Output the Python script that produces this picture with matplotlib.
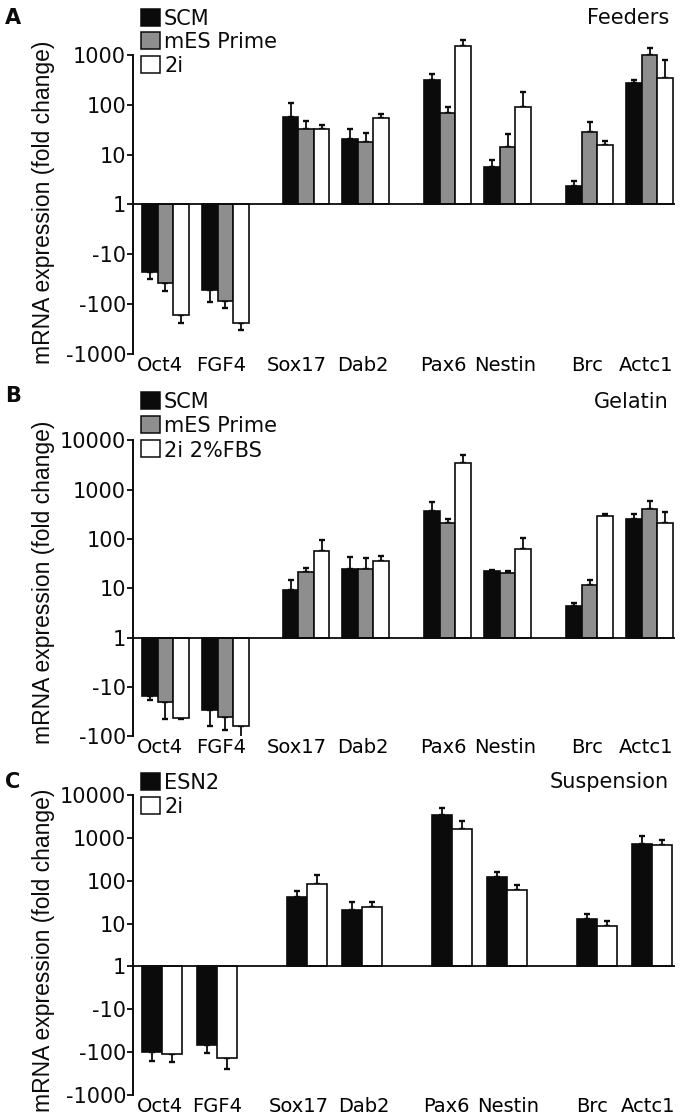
import numpy as np
import matplotlib
matplotlib.use("Agg")
import matplotlib.pyplot as plt
from matplotlib.patches import Rectangle

plt.rcParams['font.family'] = ['DejaVu Sans']

# ---------------- data ----------------
genes = ["Oct4", "FGF4", "Sox17", "Dab2", "Pax6", "Nestin", "Brc", "Actc1"]

# Panel A - Feeders (fold change; negative = down-regulation)
a_series = ["SCM", "mES Prime", "2i"]
a_scm = [-23, -52, 58, 21, 310, 5.7, 2.3, 270]
a_mes = [-37, -86, 32, 17.7, 69, 14.3, 28.6, 985]
a_2i = [-166, -240, 33, 54, 1520, 90, 15.6, 350]
a_scm_err = [9, 37, 52, 12, 107, 2.1, 0.65, 46]
a_mes_err = [17, 31, 16, 9, 22, 12, 16, 395]
a_2i_err = [74, 84, 7, 11, 430, 88, 3, 426]

# Panel B - Gelatin
b_series = ["SCM", "mES Prime", "2i 2%FBS"]
b_scm = [-15.5, -30, 9.4, 24, 365, 22, 4.4, 254]
b_mes = [-20, -41.5, 21, 24.6, 215, 20, 11.5, 400]
b_2i = [-42, -63, 56, 36, 3530, 61, 288, 215]
b_scm_err = [2.7, 32, 5.1, 18, 185, 1, 0.6, 70]
b_mes_err = [25, 34, 5, 17, 42, 2, 3.3, 175]
b_2i_err = [4, 49, 37, 8, 1470, 41, 36, 140]

# Panel C - Suspension
c_series = ["ESN2", "2i"]
c_esn2 = [-100, -69, 42, 21, 3450, 120, 12.5, 710]
c_2i = [-114, -135, 85, 24, 1650, 62, 8.6, 670]
c_esn2_err = [66, 36, 16, 11, 1450, 38, 4.5, 410]
c_2i_err = [60, 110, 50, 8, 800, 17, 3.1, 242]

tick_vals_a = [-1000, -100, -10, 1, 10, 100, 1000]
tick_vals_b = [-100, -10, 1, 10, 100, 1000, 10000]
tick_vals_c = [-1000, -100, -10, 1, 10, 100, 1000, 10000]

# ---------------- layout ----------------
W, H = 682, 1119
fig = plt.figure(figsize=(W / 100, H / 100), dpi=100)

BLACK = "#0b0b0b"
GREY = "#8e8e8e"
WHITE = "#ffffff"

centers3 = [165.3, 225.3, 306.0, 365.5, 447.5, 507.5, 589.5, 649.5]
centers2 = [162.0, 217.0, 307.0, 362.0, 452.0, 507.0, 597.0, 652.0]
label_x3 = [160, 221, 297, 363, 443, 505, 587, 646]
label_x2 = [160, 217, 299, 364, 446, 508, 592, 648]


def tf(v):
    v = np.asarray(v, dtype=float)
    return np.sign(v) * np.log10(np.abs(v))


def tick_label(v):
    return str(v)


def make_axes(top_px, bottom_px, ylim):
    left, right = 133, 675
    ax = fig.add_axes([left / W, 1 - bottom_px / H, (right - left) / W,
                       (bottom_px - top_px) / H])
    ax.set_xlim(left, right)
    ax.set_ylim(*ylim)
    ax.patch.set_alpha(0)
    for s in ["top", "right", "bottom"]:
        ax.spines[s].set_visible(False)
    ax.spines["left"].set_linewidth(1.4)
    ax.spines["left"].set_color(BLACK)
    return ax


def draw_panel(ax, series_vals, series_errs, colors, centers, width, ticks,
               spine_bounds, label_x):
    n = len(series_vals)
    offs = (np.arange(n) - (n - 1) / 2) * width
    for vals, errs, col, off in zip(series_vals, series_errs, colors, offs):
        vals = np.asarray(vals, float)
        errs = np.asarray(errs, float)
        y = tf(vals)
        et = np.log10(np.abs(vals) + errs) - np.log10(np.abs(vals))
        x = np.asarray(centers) + off
        ax.bar(x, y, width=width, color=col, edgecolor=BLACK, linewidth=1.2,
               zorder=2)
        lower = np.where(vals < 0, et, 0)
        upper = np.where(vals > 0, et, 0)
        ax.errorbar(x, y, yerr=[lower, upper], fmt="none", ecolor=BLACK,
                    elinewidth=1.3, capsize=2.2, capthick=1.7, zorder=1)
    ax.axhline(0, color=BLACK, lw=1.3, zorder=3)
    ax.spines["left"].set_bounds(*spine_bounds)
    ax.set_yticks(tf(ticks))
    ax.set_yticklabels([tick_label(t) for t in ticks], fontsize=15)
    ax.tick_params(axis="y", direction="out", length=4, width=1.3, pad=1,
                   colors=BLACK)
    ax.set_xticks(label_x)
    ax.set_xticklabels(genes, fontsize=14)
    ax.tick_params(axis="x", length=0, pad=1.5)


def legend(entries, colors, centers_y):
    for name, col, cy in zip(entries, colors, centers_y):
        r = Rectangle((141 / W, 1 - (cy + 8.5) / H), 19 / W, 17 / H,
                      transform=fig.transFigure, facecolor=col,
                      edgecolor=BLACK, linewidth=1.1)
        fig.add_artist(r)
        fig.text(164 / W, 1 - cy / H, name, fontsize=15, va="center_baseline",
                 ha="left", color=BLACK)


def ftext(x, y, s, **kw):
    fig.text(x / W, 1 - y / H, s, color=BLACK, **kw)


YLAB = "mRNA expression (fold change)"
YLAB_FONT = ['Liberation Sans', 'DejaVu Sans']

# Panel A
axA = make_axes(30.0, 354.0, (-3, 3.5))
draw_panel(axA, [a_scm, a_mes, a_2i], [a_scm_err, a_mes_err, a_2i_err],
           [BLACK, GREY, WHITE], centers3, 15.5, tick_vals_a, (-3, 3), label_x3)
legend(a_series, [BLACK, GREY, WHITE], [17, 40, 64])
ftext(13, 18, "A", fontsize=15, fontweight="bold", ha="center", va="center")
ftext(669, 18, "Feeders", fontsize=15, ha="right", va="center")
ftext(44, 202, YLAB, fontsize=16.5, rotation=90, ha="center", va="center",
      family=YLAB_FONT)

# Panel B
axB = make_axes(440.3, 736.1, (-2, 4))
draw_panel(axB, [b_scm, b_mes, b_2i], [b_scm_err, b_mes_err, b_2i_err],
           [BLACK, GREY, WHITE], centers3, 15.5, tick_vals_b, (-2, 4), label_x3)
legend(b_series, [BLACK, GREY, WHITE], [400, 424, 449])
ftext(13, 396, "B", fontsize=15, fontweight="bold", ha="center", va="center")
ftext(669, 402, "Gelatin", fontsize=15, ha="right", va="center")
ftext(44, 582, YLAB, fontsize=16.5, rotation=90, ha="center", va="center",
      family=YLAB_FONT)

# Panel C
axC = make_axes(795.0, 1094.9, (-3, 4))
draw_panel(axC, [c_esn2, c_2i], [c_esn2_err, c_2i_err],
           [BLACK, WHITE], centers2, 19.7, tick_vals_c, (-3, 4), label_x2)
legend(c_series, [BLACK, WHITE], [781, 805])
ftext(13, 782, "C", fontsize=15, fontweight="bold", ha="center", va="center")
ftext(669, 782, "Suspension", fontsize=15, ha="right", va="center")
ftext(44, 950, YLAB, fontsize=16.5, rotation=90, ha="center", va="center",
      family=YLAB_FONT)

fig.savefig("out.png", dpi=100)
